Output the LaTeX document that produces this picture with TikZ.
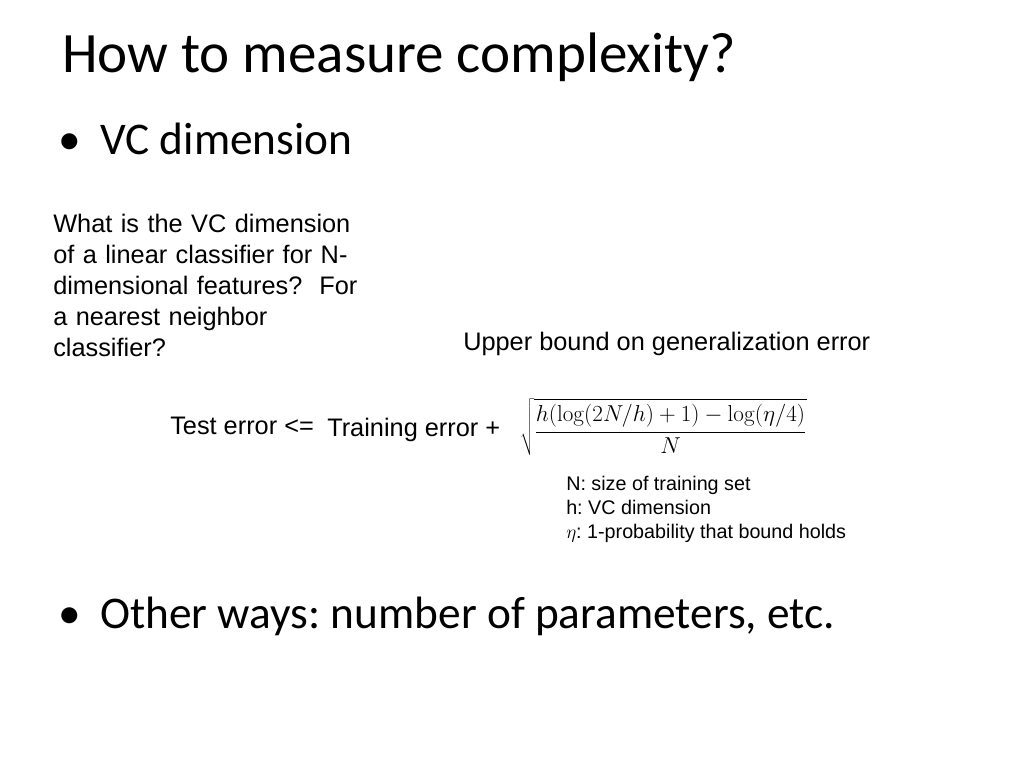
\documentclass[tikz,border=0pt]{standalone}
\usepackage[no-math]{fontspec}
\setmainfont{Liberation Sans}
\newfontfamily\slide{Carlito}
\frenchspacing
\begin{document}
\begin{tikzpicture}[x=0.75pt,y=-0.75pt,
  txt/.style={anchor=base west,inner sep=0pt,font=\fontsize{19}{23.25}\selectfont},
  note/.style={anchor=base west,inner sep=0pt,font=\fontsize{14.8}{18}\selectfont},
  bul/.style={anchor=base west,inner sep=0pt,font=\slide\fontsize{34}{37}\selectfont}]
\useasboundingbox (0,0) rectangle (1024,768);
\node[anchor=base west,inner sep=0pt,font=\slide\fontsize{42.8}{46}\selectfont] (title) at (62,72) {How to measure complexity?};
\node[bul] (d1) at (58,154) {\textbullet};
\node[bul] (b1) at (100,154) {VC dimension};
\node[bul] (d2) at (58,628) {\textbullet};
\node[bul] (b2) at (100,628) {Other ways: number of parameters, etc.};
\node[txt,anchor=north west,align=left,text width=330] (q) at (53,214) {What is the VC dimension\\of a linear classifier for N-\\dimensional features?\ \ For\\a nearest neighbor\\classifier?};
\node[txt] (ub) at (463,350) {Upper bound on generalization error};
\node[txt] (te) at (170,434) {Test error <=};
\node[txt] (tr) at (327,436) {Training error +};
\node[anchor=west,inner sep=0pt,font=\fontsize{17}{19}\selectfont] (f) at (520,427) {$\displaystyle\sqrt{\frac{h(\log(2N/h)+1)-\log(\eta/4)}{N}}$};
\node[note] (n1) at (566,490) {N: size of training set};
\node[note] (n2) at (566,514) {h: VC dimension};
\node[note] (n3) at (566,538) {$\eta$: 1-probability that bound holds};
\end{tikzpicture}
\end{document}
